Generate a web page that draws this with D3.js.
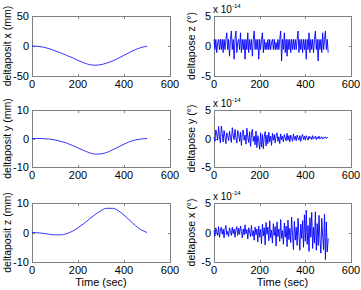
<!DOCTYPE html>
<html>
<head>
<meta charset="utf-8">
<script src="https://cdn.jsdelivr.net/npm/d3@7"></script>
<style>
  body { margin: 0; background: #fff; }
  svg text { font-family: "Liberation Sans", Arial, sans-serif; fill: #000; }
</style>
</head>
<body>
<div id="chart"></div>
<script>
// sample time grid for the smooth position curves (sec)
const posTime = [0, 25, 50, 75, 100, 125, 150, 175, 200, 225, 250, 275, 300, 325, 350, 375, 400, 425, 450, 475, 500];

const positX = [0, -0.5, -2, -4.5, -8, -11.5, -15.5, -19.5, -24, -28, -31, -32, -31, -28.5, -25, -20.5, -15.5, -10.5, -6, -2.5, -0.3];
const positY = [0, 0, -0.05, -0.2, -0.5, -1, -1.6, -2.4, -3.3, -4.2, -5, -5.5, -5.4, -4.9, -4, -3, -2, -1.1, -0.5, -0.15, 0];
const positZ = [0, -0.1, -0.3, -0.6, -0.8, -0.8, -0.4, 0.4, 1.6, 3, 4.6, 6.1, 7.4, 8.2, 8.2, 7.4, 5.9, 4.1, 2.3, 0.9, 0];

// orientation noise, units of 1e-14 deg, sampled every 4 sec
const poseZ = [
  1.1,-0.6,1.1,-1.1,0.6,1.1,-0.6,1.1,-0.6,1.1,-1.1,1.1,-0.6,1.1,2.2,-0.6,1.1,-1.7,1.1,2.5,-0.6,1.1,-2.2,1.1,2.5,-1.1,
  0.6,1.1,-0.6,2.2,-1.1,1.1,-0.6,1.1,-2.2,1.1,-0.6,2.2,-1.1,1.1,-0.6,1.1,-1.7,1.1,2.5,-0.6,1.1,-0.6,1.1,-2.2,1.1,
  -0.6,1.1,2.2,-1.1,1.1,-0.6,0.6,-0.6,1.1,-0.6,1.1,-0.6,0.6,1.1,-0.6,1.1,-0.6,0.6,-0.6,1.1,-0.6,1.1,2.5,-2.5,1.1,
  -0.6,2.2,-1.1,1.1,-1.7,1.1,-0.6,1.1,-1.1,1.1,-0.6,1.1,-0.6,1.1,-0.6,1.1,2.5,-1.1,1.1,-0.6,1.1,-1.1,1.1,-0.6,1.1,
  -2.2,1.1,-0.6,2.2,-1.1,1.1,-0.6,1.1,-1.1,1.1,2.5,-0.6,1.1,-2.5,1.1,-0.6,1.1,-1.1,2.2,-0.6,1.1,2.5,-0.6,1.1,-1.1
];
const poseY = [
  0.2,-0.5,1.5,0.8,-0.3,2.1,0.4,-0.8,2.2,0.9,-0.6,1.4,0.3,-0.9,1.0,0.5,-0.4,1.3,0.2,-0.7,1.9,0.6,-0.2,1.6,0.1,-0.8,
  1.4,0.7,-0.5,1.1,-1.2,0.9,1.5,-0.3,0.6,-1.0,1.8,0.2,-0.7,1.2,-1.4,0.8,1.6,-0.5,0.4,-1.1,1.3,-1.6,0.5,-0.4,-1.9,
  1.0,-1.5,0.7,-1.8,0.3,1.2,-1.3,0.6,-0.9,1.1,-0.6,0.4,-1.2,0.9,-0.3,0.7,-0.8,0.5,1.0,-0.5,0.3,-0.9,0.8,-0.2,0.4,
  -0.6,0.7,0.1,-0.4,0.9,-0.3,0.5,-0.6,0.6,0.0,-0.5,0.8,-0.2,0.4,-0.4,0.6,0.1,-0.3,0.5,-0.5,0.3,0.7,-0.2,0.4,-0.3,
  0.5,0.1,-0.3,0.4,0.0,0.3,-0.2,0.5,-0.1,0.2,0.4,-0.2,0.3,0.0,0.4,-0.1,0.2,0.3,-0.1,0.2,0.1,0.3,0.0,0.2,0.1
];
const poseX = [
  0.3,-0.6,0.8,0.1,-0.5,1.0,-0.8,0.4,0.9,-0.3,0.6,-0.9,0.5,1.2,-0.4,0.2,-0.7,0.8,0.3,-0.5,0.9,-0.2,0.6,-0.8,0.4,1.0,
  -0.5,0.7,-0.3,1.1,0.2,-0.9,0.6,-0.4,1.3,-0.2,0.5,-1.1,0.8,0.1,-0.7,1.2,-0.6,0.3,-1.3,0.9,-0.4,0.6,-1.6,1.1,-0.8,
  0.5,-1.9,1.4,-0.6,0.8,-2.1,1.7,-0.3,0.9,-1.4,2.0,-0.9,0.4,-1.8,1.5,-0.5,1.0,-2.3,1.8,-0.7,0.6,-1.5,2.2,-1.0,0.3,
  -2.0,1.6,-0.8,1.1,-2.4,2.1,-1.2,0.7,-1.7,2.6,-0.5,-2.9,1.9,-1.3,0.9,-2.2,2.4,-0.6,-3.0,1.4,-1.0,2.0,-2.5,3.0,-1.5,
  3.8,-2.0,1.2,-3.2,2.5,-0.8,3.4,-2.7,0.9,-1.8,3.5,-3.0,1.5,-2.2,2.9,-1.2,-3.5,2.4,-0.6,-2.9,3.1,-4.6,1.8,-3.3,-1.0
];
const poseStep = 4;

const xTicks = [0, 200, 400, 600];

const panels = [
  { col: 0, row: 0, label: "deltaposit x (mm)", time: posTime, values: positX, yDomain: [-50, 50], yTicks: [-50, 0, 50], smooth: true },
  { col: 0, row: 1, label: "deltaposit y (mm)", time: posTime, values: positY, yDomain: [-10, 10], yTicks: [-10, 0, 10], smooth: true },
  { col: 0, row: 2, label: "deltaposit z (mm)", time: posTime, values: positZ, yDomain: [-10, 10], yTicks: [-10, 0, 10], smooth: true, xlabel: true },
  { col: 1, row: 0, label: "deltapose z (°)", values: poseZ, yDomain: [-5, 5], yTicks: [-5, 0, 5], exp: true },
  { col: 1, row: 1, label: "deltapose y (°)", values: poseY, yDomain: [-5, 5], yTicks: [-5, 0, 5], exp: true },
  { col: 1, row: 2, label: "deltapose x (°)", values: poseX, yDomain: [-5, 5], yTicks: [-5, 0, 5], exp: true, xlabel: true }
];

const width = 361, height = 290;
const colX = [[32, 170], [214, 351]];
const rowY = [[16, 76], [110, 167], [203, 262]];

const svg = d3.select("#chart").append("svg")
  .attr("width", width).attr("height", height);

panels.forEach(p => {
  const [x0, x1] = colX[p.col];
  const [y0, y1] = rowY[p.row];
  const x = d3.scaleLinear().domain([0, 600]).range([x0, x1]);
  const y = d3.scaleLinear().domain(p.yDomain).range([y1, y0]);
  const g = svg.append("g");

  // frame
  g.append("rect")
    .attr("x", x0 + 0.5).attr("y", y0 + 0.5)
    .attr("width", x1 - x0).attr("height", y1 - y0)
    .attr("fill", "none").attr("stroke", "#808080").attr("stroke-width", 1);

  // inward ticks on all four sides
  xTicks.forEach(t => {
    const px = Math.round(x(t)) + 0.5;
    g.append("line").attr("x1", px).attr("x2", px).attr("y1", y1).attr("y2", y1 - 2).attr("stroke", "#808080");
    g.append("line").attr("x1", px).attr("x2", px).attr("y1", y0 + 1).attr("y2", y0 + 3).attr("stroke", "#808080");
    g.append("text").attr("x", x(t)).attr("y", y1 + 12)
      .attr("text-anchor", "middle").attr("font-size", 11).text(t);
  });
  p.yTicks.forEach(t => {
    const py = Math.round(y(t)) + 0.5;
    g.append("line").attr("x1", x0 + 1).attr("x2", x0 + 3).attr("y1", py).attr("y2", py).attr("stroke", "#808080");
    g.append("line").attr("x1", x1).attr("x2", x1 - 2).attr("y1", py).attr("y2", py).attr("stroke", "#808080");
    g.append("text").attr("x", x0 - 3).attr("y", y(t) + 4)
      .attr("text-anchor", "end").attr("font-size", 11).text(t);
  });

  // data line
  const pts = p.time
    ? p.time.map((t, i) => [t, p.values[i]])
    : p.values.map((v, i) => [i * poseStep, v]);
  const line = d3.line()
    .x(d => x(d[0])).y(d => y(d[1]))
    .curve(p.smooth ? d3.curveMonotoneX : d3.curveLinear);
  g.append("path").datum(pts)
    .attr("d", line)
    .attr("fill", "none")
    .attr("stroke", "#0000ff")
    .attr("stroke-width", p.smooth ? 0.8 : 0.9);

  // y label
  const ly = (y0 + y1) / 2;
  const lx = p.col === 0 ? 11 : 195;
  g.append("text")
    .attr("transform", `translate(${lx},${ly}) rotate(-90)`)
    .attr("text-anchor", "middle").attr("font-size", 10.5)
    .text(p.label);

  // exponent label
  if (p.exp) {
    const e = g.append("text").attr("x", x0 - 1).attr("y", y0 - 3).attr("font-size", 10);
    e.append("tspan").text("x 10");
    e.append("tspan").attr("dy", -5).attr("font-size", 6).text("-14");
  }

  if (p.xlabel) {
    g.append("text").attr("x", (x0 + x1) / 2).attr("y", y1 + 24)
      .attr("text-anchor", "middle").attr("font-size", 11).text("Time (sec)");
  }
});
</script>
</body>
</html>
